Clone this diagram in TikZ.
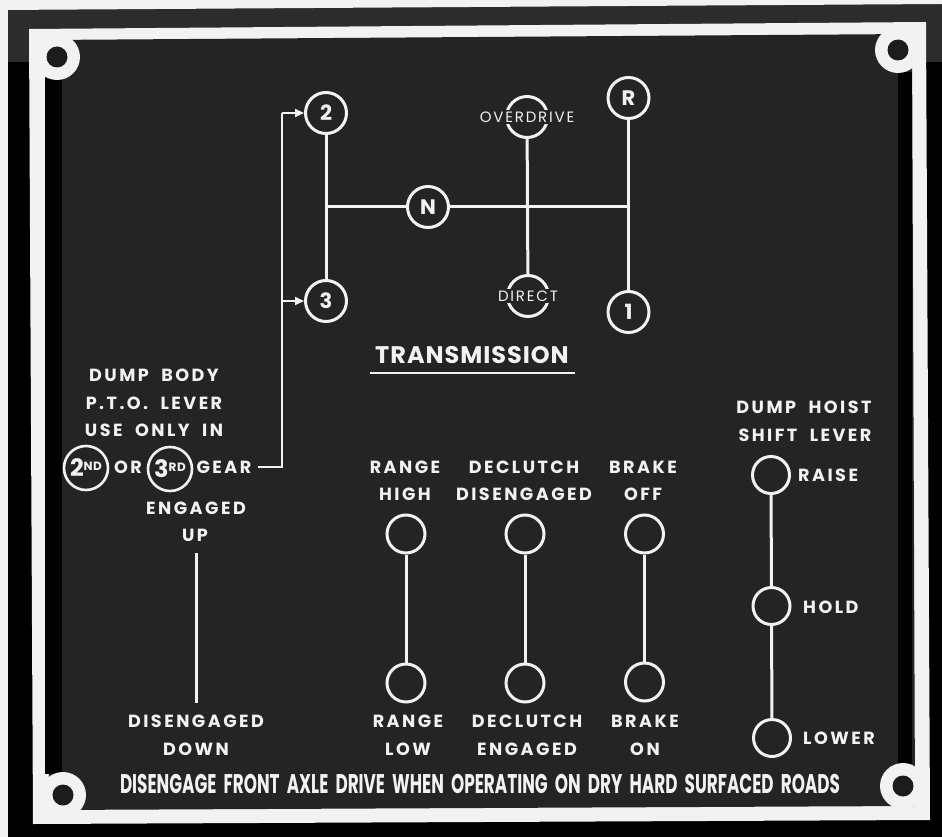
\documentclass[tikz,border=0pt]{standalone}
\usepackage{fontspec}
\usepackage{graphicx}
\setmainfont{Poppins}
\newfontfamily\lblf{Poppins}[LetterSpace=14]
\newfontfamily\smf{Poppins}[LetterSpace=12]
\newfontfamily\trf{Poppins}[LetterSpace=4]
\newfontfamily\botf{Poppins}
\usetikzlibrary{arrows.meta}
\definecolor{plate}{HTML}{242424}
\definecolor{fg}{HTML}{F2F2F2}
\definecolor{band}{HTML}{2C2C2C}
\definecolor{hole}{HTML}{1C1C1C}
\tikzset{
  ln/.style={draw=fg, line width=3pt},
  thinln/.style={draw=fg, line width=2pt},
  gearpos/.style={circle, draw=fg, line width=3pt, minimum size=41pt, inner sep=0pt, text=fg,
              font=\bfseries\fontsize{21}{21}\selectfont},
  lev/.style={circle, draw=fg, line width=3pt, minimum size=38pt, inner sep=0pt},
  gearc/.style={circle, draw=fg, line width=2.6pt, minimum size=44pt, inner sep=0pt, text=fg},
  lbl/.style={text=fg, inner sep=0pt, font=\lblf\bfseries\fontsize{17.6}{20}\selectfont},
  smlbl/.style={text=fg, fill=plate, inner sep=1.5pt, font=\smf\fontsize{15}{15}\selectfont},
  arr/.style={-{Triangle[length=9pt,width=8pt]}}
}
\begin{document}
\begin{tikzpicture}[x=1pt,y=-1pt]
\useasboundingbox (0,0) rectangle (942,837);
% background
\fill[black] (0,0) rectangle (942,837);
\fill[band] (0,0) rectangle (942,62);
\fill[fg] (0,0) -- (942,0) -- (942,4) -- (0,10) -- cycle;
\fill[fg] (0,0) rectangle (8,837);
% plate frame
\fill[fg] (29,29) -- (926,22) -- (930,820) -- (33,824) -- cycle;
\fill[plate] (45,40) -- (912,34) -- (915,806) -- (49,810) -- cycle;
% shadow strips
\fill[black] (45,78) rectangle (62,774);
\fill[black] (898,72) rectangle (912,764);
% corner bosses and holes
\fill[fg] (45,40) rectangle (57,57);
\fill[fg] (912,34) rectangle (898,50);
\fill[fg] (49,810) rectangle (63,795);
\fill[fg] (915,806) rectangle (903,786);
\fill[fg] (57,57) circle (23);
\fill[fg] (898,50) circle (23);
\fill[fg] (63,795) circle (23);
\fill[fg] (903,786) circle (23);
\fill[hole] (57,57) circle (10.5);
\fill[hole] (898,50) circle (10.5);
\fill[hole] (63,795) circle (10.5);
\fill[hole] (903,786) circle (10.5);

% ---------- transmission ----------
\node[gearpos] (c2) at (326,113) {2};
\node[gearpos] (c3) at (326,301) {3};
\node[gearpos] (cN) at (428,207) {N};
\node[gearpos] (cR) at (628.5,98) {R};
\node[gearpos] (c1) at (628.5,312) {1};
\node[gearpos] (ovdc) at (527,117) {};
\node[gearpos] (dirc) at (528,296) {};
\coordinate (hl) at (326,207);
\coordinate (hr) at (628.5,207);
\draw[ln] (c2) -- (c3);
\draw[ln] (hl) -- (cN);
\draw[ln] (cN) -- (hr);
\draw[ln] (cR) -- (c1);
\draw[ln] (ovdc) -- (dirc);
\node[smlbl] (ovdt) at (527,117) {OVERDRIVE};
\node[smlbl] (dirt) at (528,296) {DIRECT};
\node[text=fg, inner sep=0pt, font=\trf\bfseries\fontsize{24}{24}\selectfont] (trans) at (472,355) {TRANSMISSION};
\coordinate (ulL) at (370,373);
\coordinate (ulR) at (575,373);
\draw[fg, line width=2pt] (ulL) -- (ulR);

% ---------- dump body PTO ----------
\node[lbl] (t1) at (154,375) {DUMP\ \ BODY};
\node[lbl] (t2) at (154,403) {P.T.O.\ \ LEVER};
\node[lbl] (t3) at (154,430) {USE\ \ ONLY\ \ IN};
\node[gearc] (g2) at (86,468) {\bfseries\fontsize{24}{24}\selectfont 2\raisebox{6pt}{\fontsize{12}{12}\selectfont N\kern0.5pt D}};
\node[lbl] (tor) at (128,467) {OR};
\node[gearc] (g3) at (170,469) {\bfseries\fontsize{24}{24}\selectfont 3\raisebox{6pt}{\fontsize{12}{12}\selectfont R\kern0.5pt D}};
\node[lbl] (tgear) at (224,467) {GEAR};
\coordinate (gearend) at (258,467);
\coordinate (busB) at (282,467);
\coordinate (busT) at (282,113);
\coordinate (bus3) at (282,301);
\draw[thinln] (gearend) -- (busB) -- (busT);
\draw[thinln, arr] (busT) -- (c2);
\draw[thinln, arr] (bus3) -- (c3);
\node[lbl] (teng) at (196,508) {ENGAGED};
\node[lbl] (tup) at (195,535) {UP};
\coordinate (ptoT) at (196,553);
\coordinate (ptoB) at (196,703);
\draw[ln] (ptoT) -- (ptoB);
\node[lbl] (tdis) at (196,721) {DISENGAGED};
\node[lbl] (tdown) at (196,749) {DOWN};

% ---------- range / declutch / brake ----------
\node[lbl] (rh1) at (405,467) {RANGE};
\node[lbl] (rh2) at (405,494) {HIGH};
\node[lbl] (dh1) at (524,467) {DECLUTCH};
\node[lbl] (dh2) at (524,494) {DISENGAGED};
\node[lbl] (bh1) at (643,467) {BRAKE};
\node[lbl] (bh2) at (643,494) {OFF};
\node[lev] (rT) at (406,534) {};
\node[lev] (rB) at (406,683) {};
\node[lev] (dT) at (525,534) {};
\node[lev] (dB) at (525,683) {};
\node[lev] (bT) at (644.5,534) {};
\node[lev] (bB) at (644.5,682) {};
\draw[ln] (rT) -- (rB);
\draw[ln] (dT) -- (dB);
\draw[ln] (bT) -- (bB);
\node[lbl] (rl1) at (408,721) {RANGE};
\node[lbl] (rl2) at (408,749) {LOW};
\node[lbl] (dl1) at (527,721) {DECLUTCH};
\node[lbl] (dl2) at (527,749) {ENGAGED};
\node[lbl] (bl1) at (645,721) {BRAKE};
\node[lbl] (bl2) at (645,749) {ON};

% ---------- dump hoist ----------
\node[lbl] (hh1) at (804,407) {DUMP\ \ HOIST};
\node[lbl] (hh2) at (805,435) {SHIFT\ \ LEVER};
\node[lev, minimum size=37pt] (hR) at (771,475) {};
\node[lev, minimum size=37pt] (hH) at (771.5,606) {};
\node[lev, minimum size=37pt] (hL) at (772,738) {};
\draw[ln] (hR) -- (hH);
\draw[ln] (hH) -- (hL);
\node[lbl, anchor=west] (tr) at (798,475) {RAISE};
\node[lbl, anchor=west] (th) at (803,607) {HOLD};
\node[lbl, anchor=west] (tl) at (803,738) {LOWER};

% ---------- bottom line ----------
\node[text=fg, inner sep=0pt] (bot) at (480,784)
  {\resizebox{720pt}{\height}{\botf\bfseries\fontsize{27}{27}\selectfont DISENGAGE\ \ FRONT\ \ AXLE\ \ DRIVE\ \ WHEN\ \ OPERATING\ \ ON\ \ DRY\ \ HARD\ \ SURFACED\ \ ROADS}};
\end{tikzpicture}
\end{document}
